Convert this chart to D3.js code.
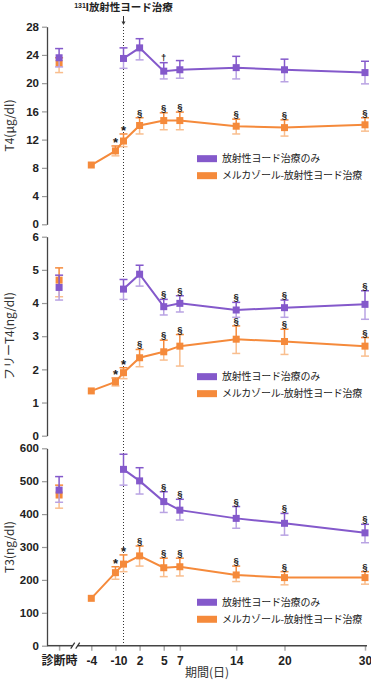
<!DOCTYPE html>
<html>
<head>
<meta charset="utf-8">
<script src="https://cdn.jsdelivr.net/npm/d3@7"></script>
<style>
  body { margin: 0; background: #fff; }
</style>
</head>
<body>
<div id="chart"></div>
<script>
// time points: diagnosis, then days relative to 131I therapy
var timepoints = ["診断時", -4, -1, 0, 2, 5, 7, 14, 20, 30];
var seriesNames = ["放射性ヨード治療のみ", "メルカゾール-放射性ヨード治療"];

// T4 (ug/dl)
var t4Ri    = [23.6, null, null, 23.5, 25.0, 21.7, 21.9, 22.2, 21.9, 21.5];
var t4RiHi  = [24.9, null, null, 25.0, 26.3, 22.9, 23.2, 23.8, 23.4, 23.1];
var t4RiLo  = [22.3, null, null, 22.1, 23.3, 20.6, 20.7, 20.6, 20.2, 19.9];
var t4RiSig = ["", "", "", "", "", "†", "", "", "", ""];
var t4Mmi    = [22.8, 8.4, 10.4, 11.8, 14.0, 14.7, 14.7, 13.9, 13.7, 14.1];
var t4MmiHi  = [23.6, null, 11.1, 12.8, 15.1, 15.8, 15.9, 14.9, 14.8, 15.1];
var t4MmiLo  = [21.5, null, 9.7, 11.0, 12.8, 13.4, 13.4, 12.8, 12.5, 13.2];
var t4MmiSig = ["", "", "*", "*", "§", "§", "§", "§", "§", "§"];
var t4Ticks = [0, 4, 8, 12, 16, 20, 24, 28];

// free T4 (ng/dl)
var ft4Ri    = [4.47, null, null, 4.42, 4.87, 3.89, 3.99, 3.79, 3.86, 3.96];
var ft4RiHi  = [4.84, null, null, 4.71, 5.14, 4.11, 4.22, 4.02, 4.09, 4.37];
var ft4RiLo  = [4.09, null, null, 4.11, 4.51, 3.64, 3.73, 3.57, 3.57, 3.51];
var ft4RiSig = ["", "", "", "", "", "§", "§", "§", "§", "§"];
var ft4Mmi    = [4.69, 1.35, 1.62, 1.90, 2.35, 2.53, 2.70, 2.91, 2.84, 2.70];
var ft4MmiHi  = [5.06, null, 1.74, 2.05, 2.60, 2.88, 3.05, 3.31, 3.21, 2.96];
var ft4MmiLo  = [4.19, null, 1.50, 1.72, 2.08, 2.28, 2.10, 2.48, 2.45, 2.40];
var ft4MmiSig = ["", "", "*", "*", "§", "§", "§", "§", "§", "§"];
var ft4Ticks = [0, 1, 2, 3, 4, 5, 6];

// T3 (ng/dl)
var t3Ri    = [473, null, null, 536, 501, 438, 412, 387, 372, 343];
var t3RiHi  = [514, null, null, 582, 541, 468, 445, 423, 402, 369];
var t3RiLo  = [436, null, null, 488, 461, 405, 382, 357, 336, 313];
var t3RiSig = ["", "", "", "", "", "§", "§", "§", "§", "§"];
var t3Mmi    = [458, 144, 222, 248, 273, 237, 240, 215, 207, 207];
var t3MmiHi  = [488, null, 240, 276, 303, 266, 266, 242, 225, 225];
var t3MmiLo  = [418, null, 202, 225, 242, 210, 212, 195, 185, 187];
var t3MmiSig = ["", "", "*", "*", "§", "§", "§", "§", "§", "§"];
var t3Ticks = [0, 100, 200, 300, 400, 500, 600];

var width = 371, height = 681;
var purple = "#8459cb", purpleLight = "#b9a3e3";
var orange = "#f58a3b", orangeLight = "#f9be8e";
var numFont = "'Liberation Sans', Arial, sans-serif";
var jpFont = "'Noto Sans CJK JP', sans-serif";

var svg = d3.select("#chart")
  .append("svg")
    .attr("width", width)
    .attr("height", height);

// x: linear in days, diagnosis sits left of the axis break
var diagDay = -8;
var x = d3.scaleLinear().domain([-4, 30]).range([91.3, 365]);
function xPos(t) { return x(t === "診断時" ? diagDay : t); }
var axisX = 47;

var panels = [
  { label: "T4(μg/dl)", domain: [0, 28], ticks: t4Ticks, range: [224.3, 26.7], legendAt: 9.3,
    ri: [t4Ri, t4RiHi, t4RiLo, t4RiSig], mmi: [t4Mmi, t4MmiHi, t4MmiLo, t4MmiSig] },
  { label: "フリーT4(ng/dl)", domain: [0, 6], ticks: ft4Ticks, range: [435.7, 236.7], legendAt: 1.78,
    ri: [ft4Ri, ft4RiHi, ft4RiLo, ft4RiSig], mmi: [ft4Mmi, ft4MmiHi, ft4MmiLo, ft4MmiSig] },
  { label: "T3(ng/dl)", domain: [0, 600], ticks: t3Ticks, range: [645.7, 448.3], legendAt: 132,
    ri: [t3Ri, t3RiHi, t3RiLo, t3RiSig], mmi: [t3Mmi, t3MmiHi, t3MmiLo, t3MmiSig] }
];

// dotted line at day 0 + arrow + title
var x0 = x(0);
svg.append("line")
  .attr("x1", x0).attr("x2", x0)
  .attr("y1", 27).attr("y2", panels[2].range[0])
  .attr("stroke", "#333")
  .attr("stroke-width", 1)
  .attr("stroke-dasharray", "1,2");
svg.append("line")
  .attr("x1", x0).attr("x2", x0)
  .attr("y1", 16).attr("y2", 23)
  .attr("stroke", "#333").attr("stroke-width", 1);
svg.append("path")
  .attr("d", "M" + (x0 - 2) + ",21.5 L" + x0 + ",25 L" + (x0 + 2) + ",21.5 Z")
  .attr("fill", "#333");

var title = svg.append("text")
  .attr("x", x0)
  .attr("y", 11)
  .attr("text-anchor", "middle")
  .attr("font-weight", "bold")
  .attr("fill", "#222");
title.append("tspan").attr("font-family", numFont).attr("font-size", "7px").attr("dy", "-3").text("131");
title.append("tspan").attr("font-family", numFont).attr("font-size", "11px").attr("dy", "3").text("I");
title.append("tspan").attr("font-family", jpFont).attr("font-size", "10.5px").text("放射性ヨード治療");

panels.forEach(function(p) {
  var y = d3.scaleLinear().domain(p.domain).range(p.range);
  var g = svg.append("g");

  var yAxis = d3.axisLeft(y).tickValues(p.ticks).tickSize(5).tickSizeOuter(0).tickPadding(3)
    .tickFormat(d3.format("d"));
  var ax = g.append("g")
    .attr("transform", "translate(" + axisX + ",0)")
    .call(yAxis);
  ax.select(".domain").attr("stroke", "#444").attr("stroke-width", 1.3);
  ax.selectAll(".tick line").attr("stroke", "#999").attr("stroke-width", 1.2);
  ax.selectAll(".tick text")
    .attr("font-family", numFont)
    .attr("font-weight", "bold")
    .attr("font-size", "11.5px")
    .attr("fill", "#222");

  // y axis title
  g.append("text")
    .attr("transform", "translate(14," + ((p.range[0] + p.range[1]) / 2) + ") rotate(-90)")
    .attr("text-anchor", "middle")
    .attr("font-family", jpFont)
    .attr("font-size", "12px")
    .attr("fill", "#333")
    .text(p.label);

  function drawSeries(arr, col, light) {
    var pts = timepoints.map(function(t, i) {
      return { t: t, v: arr[0][i], hi: arr[1][i], lo: arr[2][i], sig: arr[3][i] };
    }).filter(function(d) { return d.v !== null; });

    // error bars: upper whisker dark, lower whisker light
    var eb = g.append("g").selectAll("g")
      .data(pts.filter(function(d) { return d.hi !== null; }))
      .enter().append("g");
    eb.append("line")
      .attr("x1", function(d) { return xPos(d.t); })
      .attr("x2", function(d) { return xPos(d.t); })
      .attr("y1", function(d) { return y(d.v); })
      .attr("y2", function(d) { return y(d.lo); })
      .attr("stroke", light).attr("stroke-width", 1.5);
    eb.append("line")
      .attr("x1", function(d) { return xPos(d.t) - 4; })
      .attr("x2", function(d) { return xPos(d.t) + 4; })
      .attr("y1", function(d) { return y(d.lo); })
      .attr("y2", function(d) { return y(d.lo); })
      .attr("stroke", light).attr("stroke-width", 1.5);
    eb.append("line")
      .attr("x1", function(d) { return xPos(d.t); })
      .attr("x2", function(d) { return xPos(d.t); })
      .attr("y1", function(d) { return y(d.v); })
      .attr("y2", function(d) { return y(d.hi); })
      .attr("stroke", col).attr("stroke-width", 1.5);
    eb.append("line")
      .attr("x1", function(d) { return xPos(d.t) - 4; })
      .attr("x2", function(d) { return xPos(d.t) + 4; })
      .attr("y1", function(d) { return y(d.hi); })
      .attr("y2", function(d) { return y(d.hi); })
      .attr("stroke", col).attr("stroke-width", 1.5);

    // line over the treatment period only
    var line = d3.line()
      .x(function(d) { return xPos(d.t); })
      .y(function(d) { return y(d.v); });
    g.append("path")
      .datum(pts.filter(function(d) { return d.t !== "診断時"; }))
      .attr("fill", "none")
      .attr("stroke", col)
      .attr("stroke-width", 2)
      .attr("d", line);

    g.append("g").selectAll("rect")
      .data(pts)
      .enter().append("rect")
      .attr("x", function(d) { return xPos(d.t) - 3.5; })
      .attr("y", function(d) { return y(d.v) - 3.5; })
      .attr("width", 7)
      .attr("height", 7)
      .attr("fill", col);

    // significance marks
    g.append("g").selectAll("text")
      .data(pts.filter(function(d) { return d.sig; }))
      .enter().append("text")
      .attr("x", function(d) { return xPos(d.t); })
      .attr("y", function(d) { return d.sig === "*" ? y(d.hi) + 1 : y(d.hi) - 2; })
      .attr("text-anchor", "middle")
      .attr("font-family", numFont)
      .attr("font-weight", "bold")
      .attr("font-size", function(d) { return d.sig === "*" ? "13px" : "9.5px"; })
      .attr("fill", "#222")
      .text(function(d) { return d.sig; });
  }

  drawSeries(p.mmi, orange, orangeLight);
  drawSeries(p.ri, purple, purpleLight);

  // legend
  var ly = y(p.legendAt);
  var legend = g.append("g")
    .attr("transform", "translate(197," + ly + ")");
  legend.selectAll("rect")
    .data(seriesNames)
    .enter().append("rect")
    .attr("x", 0)
    .attr("y", function(d, i) { return i * 17 - 3.5; })
    .attr("width", 20)
    .attr("height", 7)
    .attr("fill", function(d, i) { return i === 0 ? purple : orange; });
  legend.selectAll("text")
    .data(seriesNames)
    .enter().append("text")
    .attr("x", 25)
    .attr("y", function(d, i) { return i * 17; })
    .attr("dy", "0.36em")
    .attr("font-family", jpFont)
    .attr("font-size", "10px")
    .attr("letter-spacing", "-0.2px")
    .attr("fill", "#222")
    .text(function(d) { return d; });
});

// x axis with break between diagnosis and day -4
var baseY = panels[2].range[0];
var xAxis = d3.axisBottom(x)
  .tickValues([diagDay].concat(timepoints.slice(1)))
  .tickSize(5)
  .tickSizeOuter(0)
  .tickPadding(6)
  .tickFormat(function(d) { return d === diagDay ? "診断時" : d; });
var xa = svg.append("g")
  .attr("transform", "translate(0," + baseY + ")")
  .call(xAxis);
xa.select(".domain").remove();
xa.selectAll(".tick line").attr("stroke", "#aaa").attr("stroke-width", 1.5);
xa.selectAll(".tick")
  .filter(function(d) { return d === 0; })
  .select("line").remove();
xa.selectAll(".tick text")
  .attr("font-family", function(d) { return d === diagDay ? jpFont : numFont; })
  .attr("font-weight", "bold")
  .attr("font-size", "12px")
  .attr("fill", "#222");

var breakX = (x(diagDay) + x(-4)) / 2;
svg.append("line")
  .attr("x1", axisX).attr("x2", breakX - 2.5)
  .attr("y1", baseY).attr("y2", baseY)
  .attr("stroke", "#444").attr("stroke-width", 1.5);
svg.append("line")
  .attr("x1", breakX + 2.5).attr("x2", x(30) + 2)
  .attr("y1", baseY).attr("y2", baseY)
  .attr("stroke", "#444").attr("stroke-width", 1.5);
[-2.5, 2.5].forEach(function(dx) {
  svg.append("line")
    .attr("x1", breakX + dx - 2).attr("x2", breakX + dx + 2)
    .attr("y1", baseY + 3).attr("y2", baseY - 3)
    .attr("stroke", "#333").attr("stroke-width", 1.2);
});

svg.append("text")
  .attr("x", 207)
  .attr("y", 677)
  .attr("text-anchor", "middle")
  .attr("font-family", jpFont)
  .attr("font-size", "12px")
  .attr("fill", "#333")
  .text("期間(日)");
</script>
</body>
</html>
